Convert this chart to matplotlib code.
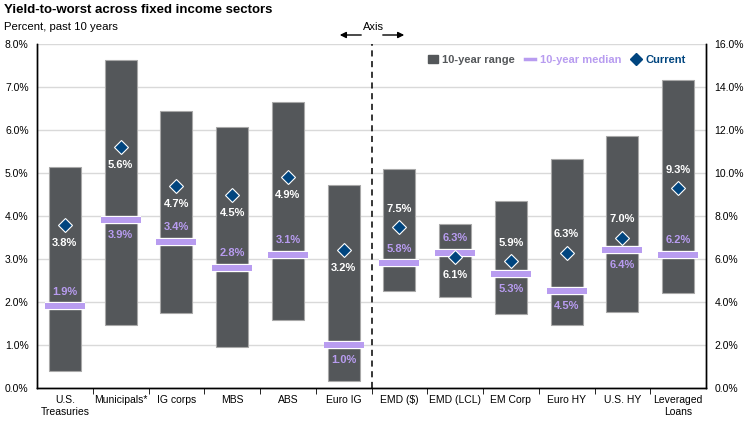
import numpy as np
import matplotlib.pyplot as plt
import matplotlib.patheffects as pe
from matplotlib.patches import Patch
from matplotlib.lines import Line2D

plt.rcParams['font.family'] = ['Liberation Sans', 'DejaVu Sans']

# data (left axis for first six sectors, right axis for the rest)
sectors = ['U.S.\nTreasuries', 'Municipals*', 'IG corps', 'MBS', 'ABS', 'Euro IG',
           'EMD ($)', 'EMD (LCL)', 'EM Corp', 'Euro HY', 'U.S. HY', 'Leveraged\nLoans']
range_low = [0.40, 1.46, 1.75, 0.95, 1.58, 0.16, 4.51, 4.23, 3.44, 2.93, 3.53, 4.42]
range_high = [5.14, 7.63, 6.44, 6.07, 6.65, 4.72, 10.19, 7.63, 8.70, 10.65, 11.72, 14.33]
median = [1.9, 3.9, 3.4, 2.8, 3.1, 1.0, 5.8, 6.3, 5.3, 4.5, 6.4, 6.2]
current = [3.8, 5.6, 4.7, 4.5, 4.9, 3.2, 7.5, 6.1, 5.9, 6.3, 7.0, 9.3]
current_side = ['below', 'below', 'below', 'below', 'below', 'below',
                'above', 'below', 'above', 'above', 'above', 'above']
median_side = ['above', 'below', 'above', 'above', 'above', 'below',
               'above', 'above', 'below', 'below', 'below', 'above']
n_left = 6

bar_color = '#54575a'
lav = '#b89cf0'
navy = '#00457f'

fig = plt.figure(figsize=(7.54, 4.25), dpi=100)
ax = fig.add_axes([37 / 754, 1 - 388 / 425, 669 / 754, 344 / 425])
ax2 = ax.twinx()

ax.set_xlim(-0.5, 11.5)
ax.set_ylim(0, 8)
ax2.set_ylim(0, 16)

ax.set_yticks(np.arange(0, 9, 1))
ax.set_yticklabels(['%.1f%%' % v for v in np.arange(0, 9, 1)])
ax2.set_yticks(np.arange(0, 17, 2))
ax2.set_yticklabels(['%.1f%%' % v for v in np.arange(0, 17, 2)])
ax.grid(axis='y', color='#d9d9d9', lw=1)
ax.set_axisbelow(True)

for a in (ax, ax2):
    a.tick_params(axis='y', length=0, labelsize=7.5, pad=6)
    a.spines['top'].set_visible(False)
    for s in ('left', 'right', 'bottom'):
        a.spines[s].set_color('black')
        a.spines[s].set_linewidth(1)

x = np.arange(len(sectors))
ax.set_xticks(x)
ax.set_xticklabels(sectors, fontsize=7.5)
ax.set_xticks(np.arange(0.5, 11, 1), minor=True)
ax.tick_params(axis='x', which='major', length=0, pad=5)
ax.tick_params(axis='x', which='minor', length=4, direction='out', color='black')

for i in range(len(sectors)):
    a = ax if i < n_left else ax2
    a.bar(x[i], range_high[i] - range_low[i], bottom=range_low[i], width=0.57,
          color=bar_color, edgecolor='#a8a8a8', lw=0.8, zorder=2)
    a.hlines(median[i], x[i] - 0.36, x[i] + 0.36, color=lav, lw=4.3, zorder=3,
             capstyle='butt',
             path_effects=[pe.Stroke(linewidth=6, foreground='white', capstyle='butt'), pe.Normal()])
    a.plot(x[i], current[i], marker='D', ms=7.5, color=navy, mec='white', mew=0.8,
           ls='none', zorder=4)
    dy = 13 if current_side[i] == 'above' else -13
    a.annotate('%.1f%%' % current[i], (x[i], current[i]), xytext=(0, dy),
               textcoords='offset points', ha='center', va='center',
               fontsize=8, fontweight='bold', color='white', zorder=5)
    dy = 10.5 if median_side[i] == 'above' else -10.5
    a.annotate('%.1f%%' % median[i], (x[i], median[i]), xytext=(0, dy),
               textcoords='offset points', ha='center', va='center',
               fontsize=8, fontweight='bold', color=lav, zorder=5)

# divider between the two axes
ax.axvline(n_left - 0.5, color='black', lw=1.1, ls=(0, (4, 3)), zorder=1)

handles = [Patch(facecolor=bar_color, edgecolor=bar_color),
           Line2D([], [], color=lav, lw=2.5),
           Line2D([], [], marker='D', color=navy, ls='none', ms=6)]
ax2.legend(handles, ['10-year range', '10-year median', 'Current'],
           loc='center right', bbox_to_anchor=(0.985, 0.953), ncol=3, frameon=False,
           handlelength=0.9, handletextpad=0.4, columnspacing=0.9,
           labelcolor=[bar_color, lav, navy],
           prop={'weight': 'bold', 'size': 8})

fig.text(4 / 754, 1 - 10 / 425, 'Yield-to-worst across fixed income sectors',
         fontsize=9.5, fontweight='bold', va='center', ha='left')
fig.text(4 / 754, 1 - 27 / 425, 'Percent, past 10 years',
         fontsize=8.2, va='center', ha='left')
fig.text(373 / 754, 1 - 27 / 425, 'Axis', fontsize=8, va='center', ha='center')
ay = 1 - 35 / 425
ax.annotate('', xy=(337 / 754, ay), xytext=(364 / 754, ay), xycoords='figure fraction',
            arrowprops=dict(arrowstyle='-|>', color='black', lw=1, mutation_scale=9))
ax.annotate('', xy=(407 / 754, ay), xytext=(380 / 754, ay), xycoords='figure fraction',
            arrowprops=dict(arrowstyle='-|>', color='black', lw=1, mutation_scale=9))

fig.savefig('out.png', dpi=100)
